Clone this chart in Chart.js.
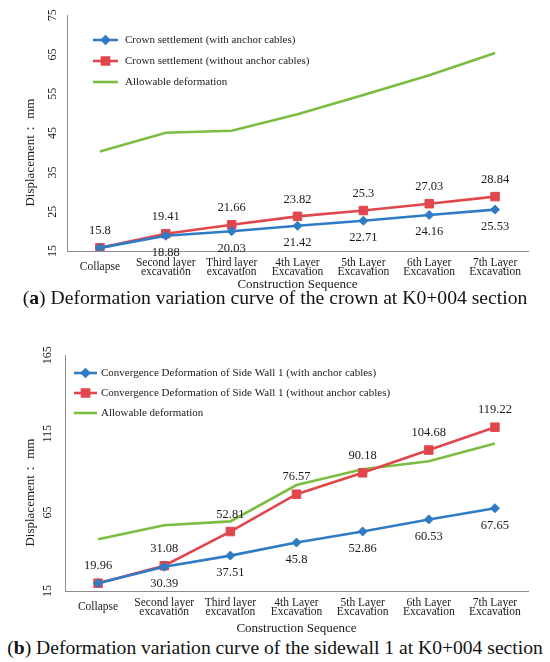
<!DOCTYPE html>
<html>
<head>
<meta charset="UTF-8">
<title>Deformation variation curves at K0+004 section</title>
<script src="https://cdn.jsdelivr.net/npm/chart.js"></script>
<style>
  body { margin: 0; background: #fff; width: 550px; height: 662px; position: relative; overflow: hidden; }
  .box { position: absolute; left: 0; width: 550px; }
  .cap { position: absolute; left: 0; width: 550px; text-align: center; font-family: "Liberation Serif", serif;
         font-size: 18px; line-height: 20px; color: #111; white-space: nowrap; }
</style>
</head>
<body>
<div class="box" style="top:0;height:292px"><canvas id="crownChart" width="550" height="292"></canvas></div>
<div class="cap" id="capA" style="top:287px"><span>(<b>a</b>) Deformation variation curve of the crown at K0+004 section</span></div>
<div class="box" style="top:340px;height:296px"><canvas id="wallChart" width="550" height="296"></canvas></div>
<div class="cap" id="capB" style="top:638px"><span>(<b>b</b>) Deformation variation curve of the sidewall 1 at K0+004 section</span></div>

<script>
// categories shared by both charts
const stages = [
    ["Collapse"],
    ["Second layer", "excavation"],
    ["Third layer", "excavation"],
    ["4th Layer", "Excavation"],
    ["5th Layer", "Excavation"],
    ["6th Layer", "Excavation"],
    ["7th Layer", "Excavation"]
];

// (a) crown settlement, mm
const crownWith = [15.8, 18.88, 20.03, 21.42, 22.71, 24.16, 25.53];
const crownWithout = [15.8, 19.41, 21.66, 23.82, 25.3, 27.03, 28.84];
const crownAllow = [40.3, 45.1, 45.6, 49.8, 54.7, 59.7, 65.4];
const crownTicks = [15, 25, 35, 45, 55, 65, 75];

// (b) side wall 1 convergence, mm
const wallWith = [19.96, 30.39, 37.51, 45.8, 52.86, 60.53, 67.65];
const wallWithout = [19.96, 31.08, 52.81, 76.57, 90.18, 104.68, 119.22];
const wallAllow = [47.9, 56.8, 59.3, 82.4, 92.5, 97.5, 108.9];
const wallTicks = [15, 65, 115, 165];

const serif = '"Liberation Serif", "Times New Roman", serif';
const txt = '#1a1a1a';
const axisGrey = '#8c8c8c';
const blue = '#2f7cc4';
const red = '#e0474c';
const green = '#7bbd42';

// legend drawn inside the plot, like the original figure
const insideLegend = {
    id: 'insideLegend',
    afterDraw(chart, args, opts) {
        const ctx = chart.ctx;
        ctx.save();
        ctx.font = '11px ' + serif;
        ctx.textBaseline = 'middle';
        chart.data.datasets.forEach((ds, i) => {
            const y = opts.y + i * opts.rowGap;
            ctx.strokeStyle = ds.borderColor;
            ctx.lineWidth = ds.borderWidth;
            ctx.beginPath();
            ctx.moveTo(opts.x, y);
            ctx.lineTo(opts.x + opts.lineLen, y);
            ctx.stroke();
            if (ds.pointRadius > 0) {
                ctx.fillStyle = ds.pointBackgroundColor;
                ctx.strokeStyle = ds.pointBorderColor;
                Chart.helpers.drawPoint(ctx, { pointStyle: ds.pointStyle, radius: ds.pointRadius - 1, borderWidth: 1, rotation: 0 },
                    opts.x + opts.lineLen / 2, y);
            }
            ctx.fillStyle = txt;
            ctx.fillText(ds.label, opts.x + opts.lineLen + opts.gap, y);
        });
        ctx.restore();
    }
};

// value labels above / below the points
const valueLabels = {
    id: 'valueLabels',
    afterDatasetsDraw(chart, args, opts) {
        const ctx = chart.ctx;
        ctx.save();
        ctx.font = '12.5px ' + serif;
        ctx.fillStyle = txt;
        ctx.textAlign = 'center';
        ctx.textBaseline = 'middle';
        opts.items.forEach(it => {
            const ds = chart.data.datasets[it.dataset];
            chart.getDatasetMeta(it.dataset).data.forEach((pt, j) => {
                if (it.skip.includes(j)) return;
                ctx.fillText(String(ds.data[j]), pt.x, pt.y + it.dy);
            });
        });
        ctx.restore();
    }
};

function lineSet(label, data, color, style, radius) {
    return {
        label: label,
        data: data,
        borderColor: color,
        backgroundColor: color,
        pointBackgroundColor: color,
        pointBorderColor: color,
        borderWidth: 2.6,
        pointStyle: style,
        pointRadius: radius,
        pointBorderWidth: 1,
        tension: 0
    };
}

function makeChart(id, sets, ticks, axisWidth, axisHeight, legendPos) {
    const ctx = document.getElementById(id).getContext('2d');
    return new Chart(ctx, {
        type: 'line',
        data: { labels: stages, datasets: sets },
        options: {
            responsive: false,
            animation: false,
            layout: { padding: { top: 13, right: 22, left: 0, bottom: 0 } },
            plugins: {
                legend: { display: false },
                tooltip: { enabled: false },
                insideLegend: legendPos,
                valueLabels: {
                    items: [
                        { dataset: 1, dy: -17, skip: [] },
                        { dataset: 0, dy: 17, skip: [0] }
                    ]
                }
            },
            scales: {
                x: {
                    offset: true,
                    grid: { display: false, drawTicks: false, offset: true },
                    border: { color: axisGrey, width: 1 },
                    ticks: {
                        font: { family: serif, size: 11.5, lineHeight: 0.75 },
                        color: txt,
                        padding: 12,
                        crossAlign: 'center',
                        maxRotation: 0,
                        autoSkip: false
                    },
                    title: {
                        display: true,
                        text: 'Construction Sequence',
                        font: { family: serif, size: 13 },
                        color: txt,
                        padding: { top: 0, bottom: 0 }
                    },
                    afterFit(s) { s.height = axisHeight; }
                },
                y: {
                    min: ticks[0],
                    max: ticks[ticks.length - 1],
                    grid: { display: false, drawTicks: false },
                    border: { color: axisGrey, width: 1 },
                    afterBuildTicks(s) { s.ticks = ticks.map(v => ({ value: v })); },
                    ticks: {
                        font: { family: serif, size: 12 },
                        color: txt,
                        minRotation: 90,
                        maxRotation: 90,
                        crossAlign: 'center',
                        padding: 8
                    },
                    title: {
                        display: true,
                        text: 'Displacement： mm\u2003\u2003\u2003',
                        font: { family: serif, size: 13 },
                        color: txt,
                        padding: { top: 23, bottom: 0 }
                    },
                    afterFit(s) { s.width = axisWidth; }
                }
            }
        },
        plugins: [insideLegend, valueLabels]
    });
}

makeChart('crownChart', [
    lineSet('Crown settlement (with anchor cables)', crownWith, blue, 'rectRot', 4.5),
    lineSet('Crown settlement (without anchor cables)', crownWithout, red, 'rect', 6),
    lineSet('Allowable deformation', crownAllow, green, 'circle', 0)
], crownTicks, 67, 41, { x: 93, y: 40, rowGap: 21, lineLen: 25, gap: 7 });

makeChart('wallChart', [
    lineSet('Convergence Deformation of Side Wall 1 (with anchor cables)', wallWith, blue, 'rectRot', 4.5),
    lineSet('Convergence Deformation of Side Wall 1 (without anchor cables)', wallWithout, red, 'rect', 6),
    lineSet('Allowable deformation', wallAllow, green, 'circle', 0)
], wallTicks, 65, 45, { x: 74, y: 33, rowGap: 20, lineLen: 23, gap: 4 });

// size the captions to the width they take in the figure
function fitCaption(id, target) {
    const el = document.getElementById(id);
    const w = el.firstElementChild.getBoundingClientRect().width;
    el.style.fontSize = (18 * target / w) + 'px';
}
fitCaption('capA', 505);
fitCaption('capB', 536);
</script>
</body>
</html>
